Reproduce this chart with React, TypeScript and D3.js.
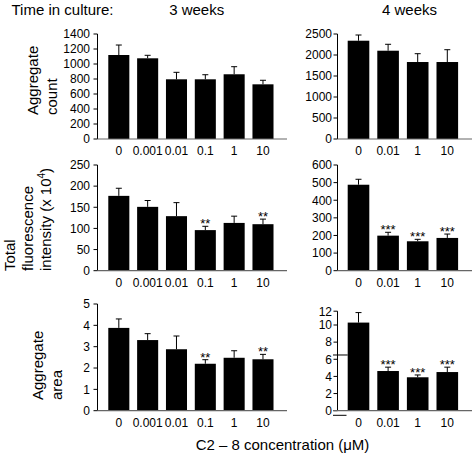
import React from "react";
import * as d3 from "d3";

const FONT = "'Liberation Sans', Arial, Helvetica, sans-serif";

// ---- data ----
const conc3w = ["0", "0.001", "0.01", "0.1", "1", "10"];
const conc4w = ["0", "0.01", "1", "10"];

const countMean3w = [1120, 1076, 796, 796, 863, 729];
const countSem3w = [133, 40, 93, 61, 101, 54];
const countMean4w = [2340, 2102, 1833, 1833];
const countSem4w = [136, 153, 198, 293];

const fluorMean3w = [177, 151, 129, 96, 113, 110];
const fluorSem3w = [18, 15, 32, 9, 16, 12];
const fluorMean4w = [488, 199, 167, 186];
const fluorSem4w = [31, 19, 11, 22];

const areaMean3w = [3.88, 3.31, 2.88, 2.2, 2.48, 2.41];
const areaSem3w = [0.42, 0.3, 0.62, 0.19, 0.33, 0.23];
const areaMean4w = [10.35, 4.63, 3.9, 4.51];
const areaSem4w = [1.45, 0.45, 0.27, 0.57];

const sig3w = ["", "", "", "**", "", "**"];
const sig4w = ["", "***", "***", "***"];
const noSig3w = ["", "", "", "", "", ""];
const noSig4w = ["", "", "", ""];

const countTicks3w = [0, 200, 400, 600, 800, 1000, 1200, 1400];
const countTicks4w = [0, 500, 1000, 1500, 2000, 2500];
const fluorTicks3w = [0, 50, 100, 150, 200, 250];
const fluorTicks4w = [0, 100, 200, 300, 400, 500, 600];
const areaTicks3w = [0, 1, 2, 3, 4, 5];
const areaTicks4w = [0, 2, 4, 6, 8, 10, 12];
const areaBreak4w = 6.5;

// ---- layout ----
const W = 475;
const H = 454;
const LEFT = { axisX: 97.5, axisEnd: 287, band: [104.4, 277.4], gap: 3.5 };
const RIGHT = { axisX: 337.5, axisEnd: 472, band: [343.7, 462.1], gap: 1.5 };
const ROWS = [
  { zero: 139, top: 34 },
  { zero: 270.7, top: 165 },
  { zero: 410.7, top: 304 },
];

type PanelProps = {
  cats: string[];
  means: number[];
  sems: number[];
  stars: string[];
  yScale: d3.ScaleLinear<number, number>;
  ticks: number[];
  side: typeof LEFT;
  zero: number;
  broken?: number;
};

function Panel({ cats, means, sems, stars, yScale, ticks, side, zero, broken }: PanelProps) {
  const x = d3
    .scaleBand<string>()
    .domain(cats)
    .range(side.band as [number, number])
    .paddingInner(0.27)
    .paddingOuter(0.135);
  const bw = x.bandwidth();
  const yTop = yScale(ticks[ticks.length - 1]);
  const axisStart = broken !== undefined ? side.axisX - 4.5 : side.axisX;
  return (
    <g>
      {cats.map((c, i) => {
        const cx = (x(c) as number) + bw / 2;
        const yMean = yScale(means[i]);
        const yErr = yScale(means[i] + sems[i]);
        return (
          <g key={c}>
            <rect x={x(c)} y={yMean} width={bw} height={zero - yMean} fill="#000" />
            <line x1={cx} x2={cx} y1={yMean} y2={yErr} stroke="#000" strokeWidth={1} />
            <line x1={cx - 3} x2={cx + 3} y1={yErr} y2={yErr} stroke="#000" strokeWidth={1} />
            {stars[i] && (
              <text x={cx} y={yErr + 2} textAnchor="middle" fontSize={13} fontFamily={FONT}>
                {stars[i]}
              </text>
            )}
            <text x={cx} y={zero + 16} textAnchor="middle" fontSize={12} fontFamily={FONT}>
              {c}
            </text>
          </g>
        );
      })}
      {/* y axis */}
      <line x1={side.axisX} x2={side.axisX} y1={yTop} y2={zero} stroke="#000" strokeWidth={1} />
      {ticks.map((t) => (
        <g key={t}>
          <line
            x1={side.axisX - 4}
            x2={side.axisX}
            y1={yScale(t)}
            y2={yScale(t)}
            stroke="#000"
            strokeWidth={1}
          />
          <text
            x={side.axisX - 4 - side.gap}
            y={yScale(t)}
            dy="0.36em"
            textAnchor="end"
            fontSize={12}
            fontFamily={FONT}
          >
            {t}
          </text>
        </g>
      ))}
      {/* x axis */}
      <line x1={axisStart} x2={side.axisEnd} y1={zero} y2={zero} stroke="#666" strokeWidth={1.2} />
      {broken !== undefined && (
        <g stroke="#000" strokeWidth={1}>
          <line
            x1={side.axisX - 4.5}
            x2={x(cats[0]) as number}
            y1={yScale(broken)}
            y2={yScale(broken)}
          />
          <line x1={side.axisX - 4.5} x2={side.axisX + 9} y1={zero + 4.6} y2={zero + 4.6} />
        </g>
      )}
    </g>
  );
}

export default function App() {
  const yCount3 = d3.scaleLinear().domain([0, 1400]).range([ROWS[0].zero, ROWS[0].top]);
  const yCount4 = d3.scaleLinear().domain([0, 2500]).range([ROWS[0].zero, ROWS[0].top]);
  const yFluor3 = d3.scaleLinear().domain([0, 250]).range([ROWS[1].zero, ROWS[1].top]);
  const yFluor4 = d3.scaleLinear().domain([0, 600]).range([ROWS[1].zero, ROWS[1].top]);
  const yArea3 = d3.scaleLinear().domain([0, 5]).range([ROWS[2].zero, ROWS[2].top]);
  const yArea4 = d3
    .scaleLinear()
    .domain([0, 10, 12])
    .range([ROWS[2].zero, 325, 311.2]);

  const titleStyle = { fontSize: 15, fontFamily: FONT };

  return (
    <svg
      width={W}
      height={H}
      style={{ position: "absolute", left: 0, top: 0, background: "#fff" }}
    >
      <rect width={W} height={H} fill="#fff" />
      {/* headers */}
      <text x={11.5} y={15} {...titleStyle}>
        Time in culture:
      </text>
      <text x={196.7} y={15} textAnchor="middle" {...titleStyle}>
        3 weeks
      </text>
      <text x={409.5} y={15} textAnchor="middle" {...titleStyle}>
        4 weeks
      </text>

      {/* y titles */}
      <g {...titleStyle}>
        <text transform="translate(37.5,115) rotate(-90)">Aggregate</text>
        <text transform="translate(57,115) rotate(-90)">count</text>

        <text transform="translate(15,271) rotate(-90)">Total</text>
        <text transform="translate(33.3,271) rotate(-90)">fluorescence</text>
        <text transform="translate(51,271) rotate(-90)">
          intensity (x 10
          <tspan fontSize={10} dy={-6}>
            4
          </tspan>
          <tspan dy={6}>)</tspan>
        </text>

        <text transform="translate(42.5,400) rotate(-90)">Aggregate</text>
        <text transform="translate(61.5,400) rotate(-90)">area</text>
      </g>

      <Panel cats={conc3w} means={countMean3w} sems={countSem3w} stars={noSig3w} yScale={yCount3} ticks={countTicks3w} side={LEFT} zero={ROWS[0].zero} />
      <Panel cats={conc4w} means={countMean4w} sems={countSem4w} stars={noSig4w} yScale={yCount4} ticks={countTicks4w} side={RIGHT} zero={ROWS[0].zero} />
      <Panel cats={conc3w} means={fluorMean3w} sems={fluorSem3w} stars={sig3w} yScale={yFluor3} ticks={fluorTicks3w} side={LEFT} zero={ROWS[1].zero} />
      <Panel cats={conc4w} means={fluorMean4w} sems={fluorSem4w} stars={sig4w} yScale={yFluor4} ticks={fluorTicks4w} side={RIGHT} zero={ROWS[1].zero} />
      <Panel cats={conc3w} means={areaMean3w} sems={areaSem3w} stars={sig3w} yScale={yArea3} ticks={areaTicks3w} side={LEFT} zero={ROWS[2].zero} />
      <Panel cats={conc4w} means={areaMean4w} sems={areaSem4w} stars={sig4w} yScale={yArea4} ticks={areaTicks4w} side={RIGHT} zero={ROWS[2].zero} broken={areaBreak4w} />

      {/* x title */}
      <text x={282.5} y={450} textAnchor="middle" {...titleStyle}>
        C2 – 8 concentration (μM)
      </text>
    </svg>
  );
}
